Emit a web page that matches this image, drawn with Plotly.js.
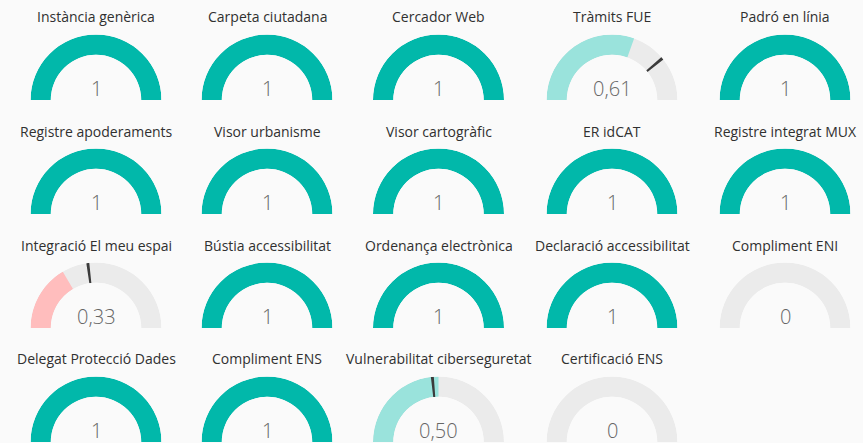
<!DOCTYPE html>
<html><head><meta charset="utf-8">
<script src="https://cdn.plot.ly/plotly-3.0.1.min.js"></script>
<style>html,body{margin:0;padding:0;background:#fafafa;}#chart{width:863px;height:443px;}</style>
</head><body><div id="chart"></div>
<script>
const titles = [
  "Instància genèrica","Carpeta ciutadana","Cercador Web","Tràmits FUE","Padró en línia",
  "Registre apoderaments","Visor urbanisme","Visor cartogràfic","ER idCAT","Registre integrat MUX",
  "Integració El meu espai","Bústia accessibilitat","Ordenança electrònica","Declaració accessibilitat","Compliment ENI",
  "Delegat Protecció Dades","Compliment ENS","Vulnerabilitat ciberseguretat","Certificació ENS"
];
const values = [
  1, 1, 1, 0.61, 1,
  1, 1, 1, 1, 1,
  0.33, 1, 1, 1, 0,
  1, 1, 0.50, 0
];
const targets = [
  null, null, null, 0.78, null,
  null, null, null, null, null,
  0.46, null, null, null, null,
  null, null, 0.47, null
];

const W = 863, H = 443;
const colX = [96, 267, 438.5, 612, 785];
const rowY = [100, 214, 328, 442];
const R = 65.5;
const TEAL = '#01B8AA', LIGHT = '#9AE3DC', PINK = '#FFBDBD', TRACK = '#EBEBEB', NEEDLE = '#3b3b3b';

function fmt(v){ return (v === 1 || v === 0) ? String(v) : v.toFixed(2).replace('.', ','); }
function fillColor(v){ return v >= 1 ? TEAL : (v >= 0.5 ? LIGHT : PINK); }

const data = [];
const layout = {
  width: W, height: H, margin: {l:0, r:0, t:0, b:0},
  paper_bgcolor: '#fafafa', plot_bgcolor: '#fafafa',
  showlegend: false, annotations: []
};

titles.forEach((t, i) => {
  const col = i % 5, row = Math.floor(i / 5);
  const cx = colX[col], cy = rowY[row];
  const key = i === 0 ? 'polar' : 'polar' + (i + 1);
  const v = values[i], tg = targets[i];
  const theta = [90], width = [180], colors = [TRACK];
  if (v > 0) { theta.push(180 - 90 * v); width.push(180 * v); colors.push(fillColor(v)); }
  if (tg !== null) { theta.push(180 - 180 * tg); width.push(2.6); colors.push(NEEDLE); }
  data.push({
    type: 'barpolar', subplot: key,
    r: theta.map(() => 1), theta: theta, width: width,
    marker: {color: colors, line: {width: 0}},
    hoverinfo: 'skip'
  });
  layout[key] = {
    domain: {x: [(cx - R) / W, (cx + R) / W], y: [Math.max(0,(H - cy) / H), (H - cy + R) / H]},
    sector: [0, 180], hole: 0.69, barmode: 'overlay',
    bgcolor: 'rgba(0,0,0,0)',
    radialaxis: {visible: false, range: [0, 1]},
    angularaxis: {visible: false, rotation: 0, direction: 'counterclockwise'}
  };
  layout.annotations.push({
    xref: 'paper', yref: 'paper', x: cx / W, y: (H - (cy - 83)) / H,
    text: t, showarrow: false, xanchor: 'center', yanchor: 'middle',
    font: {family: 'Open Sans, Noto Sans, sans-serif', size: 14, color: '#303030'}
  });
  layout.annotations.push({
    xref: 'paper', yref: 'paper', x: cx / W, y: (H - (cy - 12)) / H,
    text: fmt(v), showarrow: false, xanchor: 'center', yanchor: 'middle',
    font: {family: 'Open Sans, Roboto, sans-serif', size: 20, color: '#666666', weight: 300}
  });
});

Plotly.newPlot('chart', data, layout, {displayModeBar: false, staticPlot: true});
</script>
</body></html>
